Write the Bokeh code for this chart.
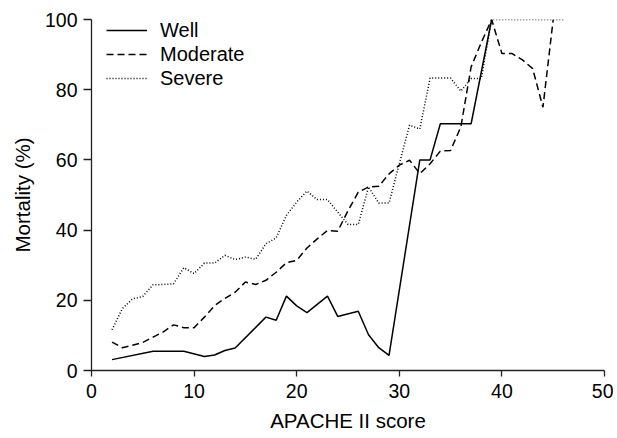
from bokeh.plotting import figure
from bokeh.models import Range1d, Legend, LegendItem, FixedTicker
from bokeh.embed import file_html
from bokeh.resources import INLINE

# ---- data ----
well_x = [2, 6, 9, 11, 12, 13, 14, 17, 18, 19, 20, 21, 23, 24, 26, 27, 28, 29, 32, 33, 34, 37, 39]
well_y = [3.1, 5.5, 5.5, 4.0, 4.4, 5.7, 6.4, 15.2, 14.3, 21.2, 18.4, 16.5, 21.2, 15.4, 16.9, 10.2, 6.5, 4.3,
          60, 60, 70.3, 70.3, 100]

moderate_x = [2, 3, 4, 5, 6, 7, 8, 9, 10, 11, 12, 13, 14, 15, 16, 17, 18, 19, 20, 21, 22, 23, 24, 25, 26, 27,
              28, 29, 30, 31, 32, 33, 34, 35, 36, 37, 38, 39, 40, 41, 42, 43, 44, 45]
moderate_y = [8.1, 6.5, 7.2, 8.0, 9.5, 11.0, 13.0, 12.2, 12.2, 15.2, 18.5, 20.5, 22.3, 25.2, 24.5, 25.7, 28.0,
              30.7, 31.4, 34.9, 37.5, 39.9, 39.7, 45.5, 50.8, 52.3, 52.5, 56.0, 58.5, 59.9, 56.1, 58.9, 62.5,
              62.7, 69.4, 86.5, 93.5, 100, 90.3, 90.3, 88.5, 86.0, 75.0, 100]

severe_x = [2, 3, 4, 5, 6, 7, 8, 9, 10, 11, 12, 13, 14, 15, 16, 17, 18, 19, 20, 21, 22, 23, 24, 25, 26, 27,
            28, 29, 30, 31, 32, 33, 34, 35, 36, 37, 38, 39, 46]
severe_y = [11.6, 17.6, 20.4, 21.1, 24.4, 24.5, 24.7, 29.3, 27.6, 30.6, 30.6, 32.8, 31.6, 32.3, 31.7, 36.1,
            37.8, 44.2, 48.0, 51.1, 48.7, 48.7, 45.1, 41.6, 41.6, 52.3, 47.7, 47.7, 58.9, 69.9, 68.8, 83.3,
            83.3, 83.3, 79.6, 83.2, 83.2, 100, 100]

x_ticks = [0, 10, 20, 30, 40, 50]
y_ticks = [0, 20, 40, 60, 80, 100]
series_names = ["Well", "Moderate", "Severe"]

FONT = "Liberation Sans"

p = figure(width=613, height=438, output_backend="svg", toolbar_location=None,
           x_range=Range1d(0, 50), y_range=Range1d(0, 100),
           min_border_left=91, min_border_right=9, min_border_top=19, min_border_bottom=68)
p.outline_line_color = None
p.xgrid.visible = False
p.ygrid.visible = False

r_well = p.line(well_x, well_y, line_color="black", line_width=1.5)
r_mod = p.line(moderate_x, moderate_y, line_color="black", line_width=1.5, line_dash="7 4")
r_sev = p.line(severe_x, severe_y, line_color="black", line_width=1.5, line_dash="1 2")

for ax in (p.xaxis[0], p.yaxis[0]):
    ax.axis_line_color = "#222222"
    ax.axis_line_width = 1.3
    ax.major_tick_line_color = "#222222"
    ax.major_tick_line_width = 1.3
    ax.major_tick_in = 0
    ax.minor_tick_line_color = None
    ax.major_label_text_font = FONT
    ax.major_label_text_font_size = "19.5px"
    ax.major_label_text_color = "black"
    ax.axis_label_text_font = FONT
    ax.axis_label_text_font_size = "20.5px"
    ax.axis_label_text_font_style = "normal"
    ax.axis_label_text_color = "black"

p.xaxis.ticker = FixedTicker(ticks=x_ticks)
p.yaxis.ticker = FixedTicker(ticks=y_ticks)
p.xaxis.major_tick_out = 6
p.yaxis.major_tick_out = 8
p.xaxis.major_label_standoff = 7
p.yaxis.major_label_standoff = 6
p.xaxis.axis_label = "APACHE II score"
p.yaxis.axis_label = "Mortality (%)"
p.xaxis.axis_label_standoff = 8
p.yaxis.axis_label_standoff = 8

legend = Legend(items=[LegendItem(label=series_names[0], renderers=[r_well]),
                       LegendItem(label=series_names[1], renderers=[r_mod]),
                       LegendItem(label=series_names[2], renderers=[r_sev])],
                location=(15, 280), padding=0, margin=0, spacing=0,
                glyph_width=41, glyph_height=24, label_height=24, label_standoff=13,
                label_text_font=FONT, label_text_font_size="20px", label_text_color="black",
                border_line_color=None, background_fill_alpha=0)
p.add_layout(legend, "center")

open("out.html", "w").write(file_html(p, INLINE))
